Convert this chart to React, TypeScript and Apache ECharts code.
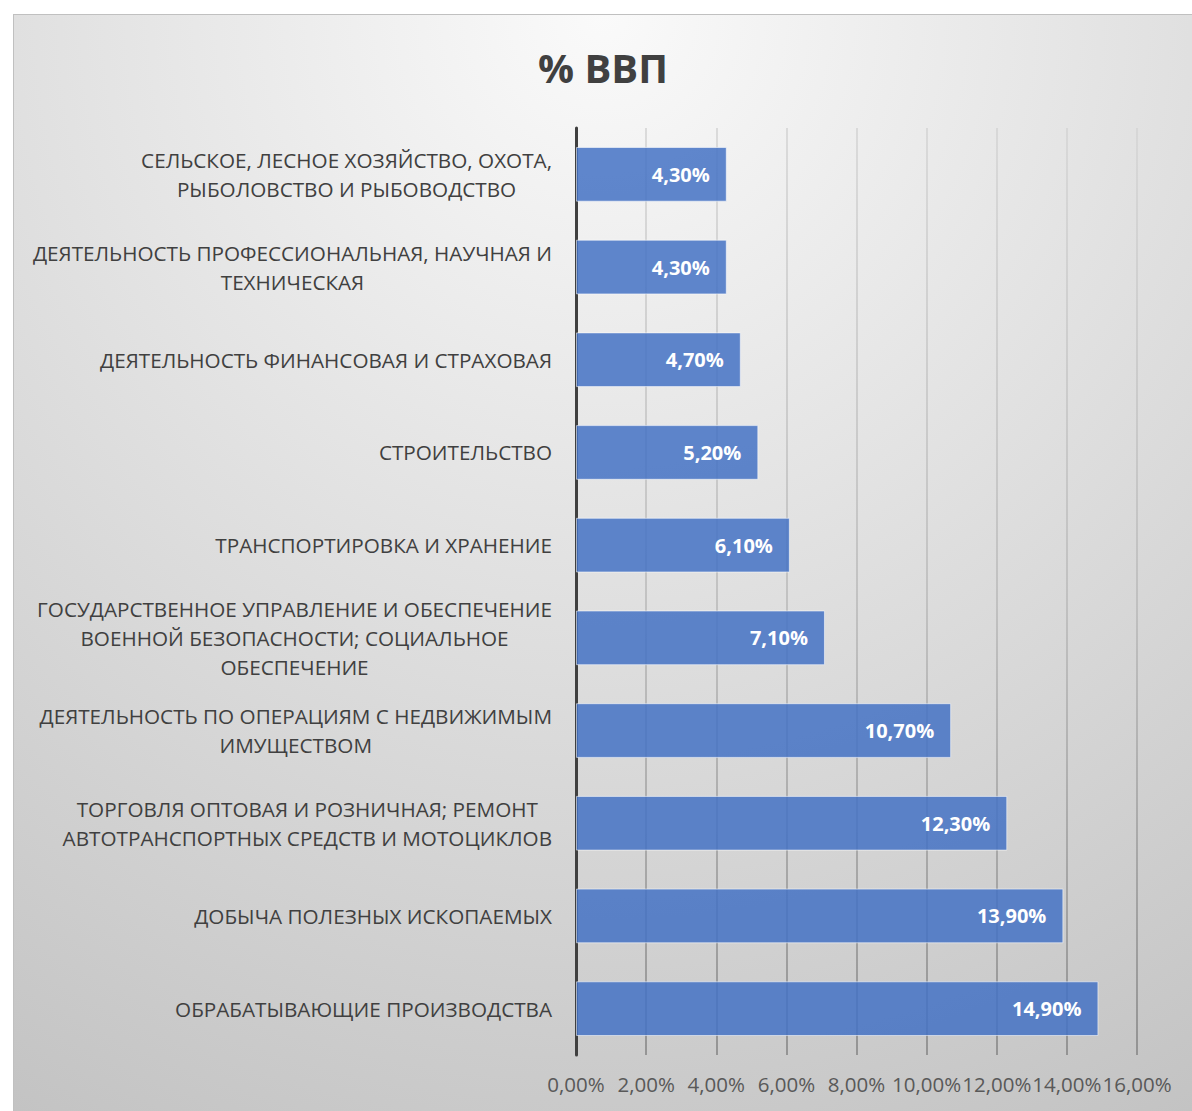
import React, { useEffect, useRef } from "react";
import * as echarts from "echarts";

const categories: string[][] = [
  ["ОБРАБАТЫВАЮЩИЕ ПРОИЗВОДСТВА"],
  ["ДОБЫЧА ПОЛЕЗНЫХ ИСКОПАЕМЫХ"],
  ["ТОРГОВЛЯ ОПТОВАЯ И РОЗНИЧНАЯ; РЕМОНТ", "АВТОТРАНСПОРТНЫХ СРЕДСТВ И МОТОЦИКЛОВ"],
  ["ДЕЯТЕЛЬНОСТЬ ПО ОПЕРАЦИЯМ С НЕДВИЖИМЫМ", "ИМУЩЕСТВОМ"],
  ["ГОСУДАРСТВЕННОЕ УПРАВЛЕНИЕ И ОБЕСПЕЧЕНИЕ", "ВОЕННОЙ БЕЗОПАСНОСТИ; СОЦИАЛЬНОЕ", "ОБЕСПЕЧЕНИЕ"],
  ["ТРАНСПОРТИРОВКА И ХРАНЕНИЕ"],
  ["СТРОИТЕЛЬСТВО"],
  ["ДЕЯТЕЛЬНОСТЬ ФИНАНСОВАЯ И СТРАХОВАЯ"],
  ["ДЕЯТЕЛЬНОСТЬ ПРОФЕССИОНАЛЬНАЯ, НАУЧНАЯ И", "ТЕХНИЧЕСКАЯ"],
  ["СЕЛЬСКОЕ, ЛЕСНОЕ ХОЗЯЙСТВО, ОХОТА,", "РЫБОЛОВСТВО И РЫБОВОДСТВО"],
];
const values: number[] = [14.9, 13.9, 12.3, 10.7, 7.1, 6.1, 5.2, 4.7, 4.3, 4.3];
const axisMin = 0;
const axisMax = 16;
const axisStep = 2;
const title = "% ВВП";

const fmt = (v: number) => v.toFixed(2).replace(".", ",") + "%";
const FONT = "'Open Sans', 'Noto Sans', sans-serif";

export default function App() {
  const ref = useRef<HTMLDivElement>(null);
  useEffect(() => {
    if (!ref.current) return;
    const chart = echarts.init(ref.current, null, { renderer: "svg" });
    const catNames = categories.map((c) => c.join("\n"));
    chart.setOption({
      animation: false,
      backgroundColor: "transparent",
      title: {
        text: title,
        left: "center",
        top: 27,
        textStyle: { fontFamily: FONT, fontSize: 40, fontWeight: "bold", color: "#404040" },
      },
      grid: { left: 562, right: 55, top: 113, bottom: 56, containLabel: false },
      xAxis: {
        type: "value",
        min: axisMin,
        max: axisMax,
        interval: axisStep,
        axisLine: { show: false },
        axisTick: { show: false },
        axisLabel: {
          formatter: (v: number) => fmt(v),
          fontFamily: FONT,
          fontSize: 20.5,
          color: "#595959",
          margin: 18,
        },
        splitLine: {
          show: true,
          lineStyle: {
            width: 1.6,
            color: {
              type: "linear",
              x: 0,
              y: 127,
              x2: 0,
              y2: 1055,
              global: true,
              colorStops: [
                { offset: 0, color: "#d4d4d4" },
                { offset: 0.5, color: "#bababa" },
                { offset: 1, color: "#858585" },
              ],
            },
          },
        },
      },
      yAxis: {
        type: "category",
        data: catNames,
        axisLine: { show: true, lineStyle: { color: "#404040", width: 3 } },
        axisTick: { show: false },
        axisLabel: {
          margin: 24,
          align: "right",
          formatter: (v: string) =>
            v
              .split("\n")
              .map((l) => "{c|" + l + "}")
              .join("\n"),
          rich: {
            c: {
              align: "center",
              fontFamily: FONT,
              fontSize: 20.7,
              color: "#404040",
              lineHeight: 29,
            },
          },
        },
      },
      series: [
        {
          type: "bar",
          data: values,
          barCategoryGap: "41%",
          itemStyle: {
            color: "rgba(68,114,196,0.85)",
            borderColor: "rgba(255,255,255,0.55)",
            borderWidth: 1,
          },
          label: {
            show: true,
            position: "insideRight",
            distance: 17,
            formatter: (p: any) => fmt(p.value),
            fontFamily: FONT,
            fontSize: 20,
            fontWeight: "bold",
            color: "#ffffff",
          },
        },
      ],
    });
    return () => chart.dispose();
  }, []);
  return (
    <div
      ref={ref}
      style={{
        position: "absolute",
        left: 13,
        top: 14,
        width: 1179,
        height: 1097,
        boxSizing: "border-box",
        borderLeft: "1px solid #c0c0c0",
        borderTop: "1px solid #c0c0c0",
        background: "radial-gradient(circle farthest-corner at 50% 0%, #fafafa 0%, #c3c3c3 100%)",
      }}
    />
  );
}
